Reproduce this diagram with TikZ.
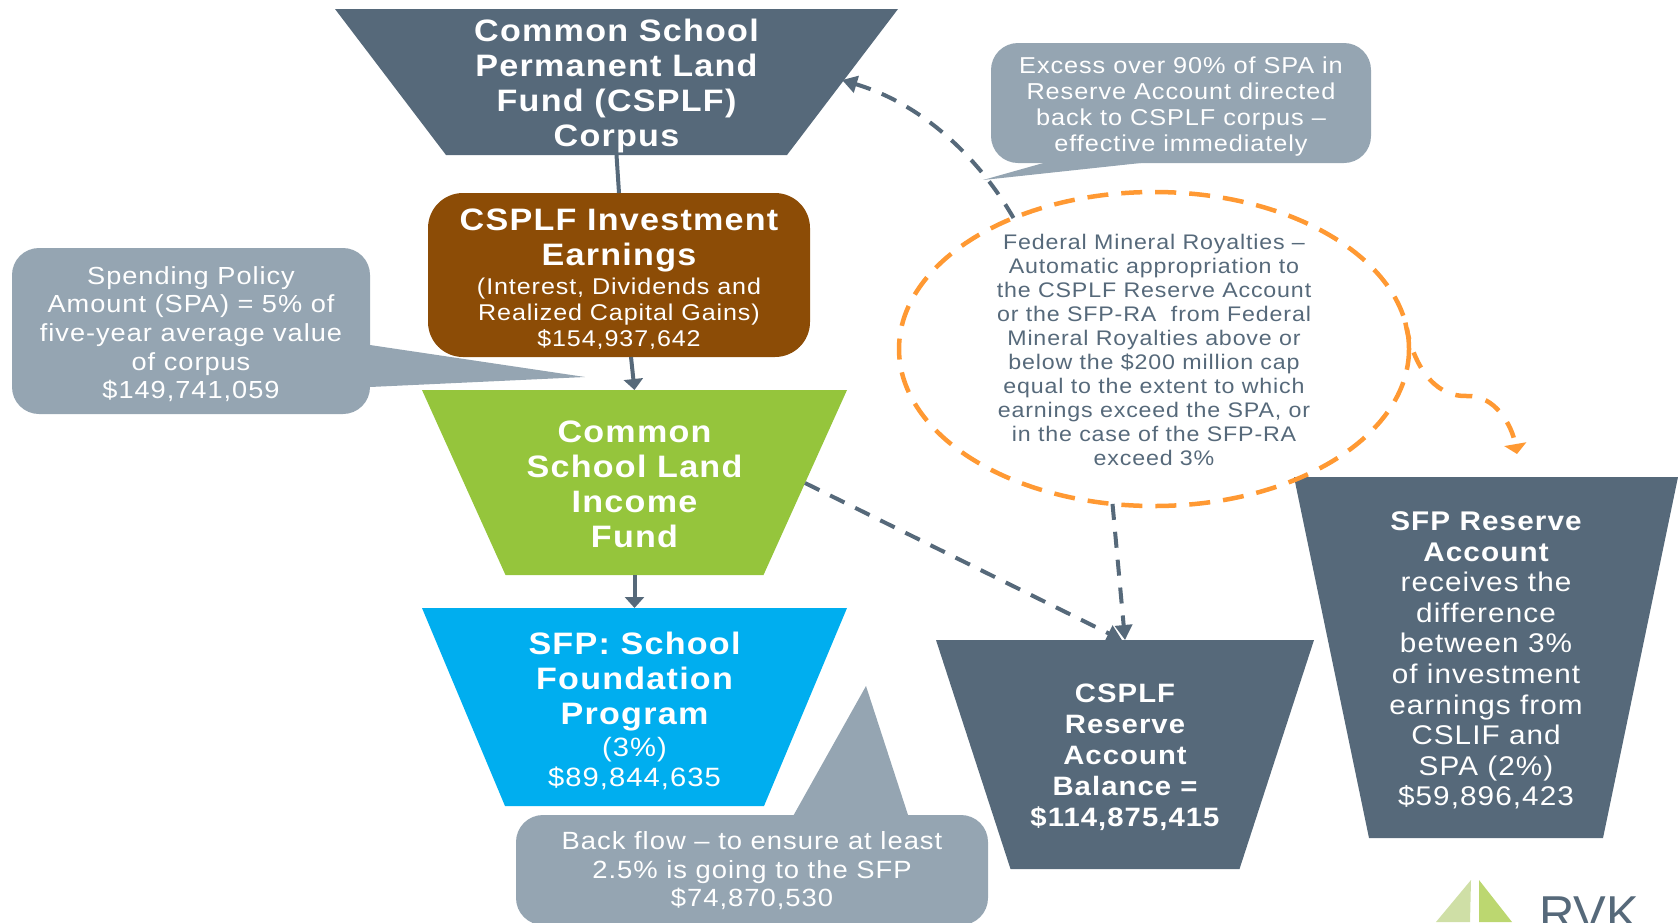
\documentclass[tikz,border=0pt]{standalone}
\usepackage{fontspec}
\setmainfont[FakeStretch=1.1,LetterSpace=4]{Liberation Sans}
\newfontfamily\logofont{Liberation Sans}
\usetikzlibrary{shapes.geometric,arrows.meta}
\definecolor{slate}{HTML}{56697A}
\definecolor{mist}{HTML}{95A5B2}
\definecolor{brownbox}{HTML}{8C4C06}
\definecolor{greenbox}{HTML}{95C53C}
\definecolor{bluebox}{HTML}{00AEEF}
\definecolor{orangeline}{HTML}{FF9933}
\definecolor{logoA}{HTML}{CFDFA6}
\definecolor{logoB}{HTML}{BCD770}
\newcommand{\headfont}{\bfseries\fontsize{31}{35}\selectfont}
\newcommand{\up}[1]{\rule{0pt}{#1pt}}
\tikzset{
  funneltext/.style={rectangle,inner sep=0pt,outer sep=0pt,draw=none,text=white,align=center},
  bubble/.style={rounded corners=27pt,inner sep=0pt,outer sep=0pt,text=white,align=center,fill=mist},
  tail/.style={fill=mist,draw=none},
  flow/.style={draw=slate,line width=4pt,-{Triangle[length=11pt,width=19pt]}},
  plainflow/.style={draw=slate,line width=4pt},
  dashflow/.style={draw=slate,line width=4pt,dash pattern=on 16pt off 12pt,-{Triangle[length=15pt,width=17pt]}},
  orangedash/.style={draw=orangeline,line width=4.5pt,dash pattern=on 21pt off 13pt},
}
% name, centre x, centre y, top width, height, inset, colour, font, text
\newcommand{\funnelbox}[9]{%
  \fill[#7] ({#2-#4/2},{#3-#5/2}) -- ({#2+#4/2},{#3-#5/2}) -- ({#2+#4/2-#6},{#3+#5/2}) -- ({#2-#4/2+#6},{#3+#5/2}) -- cycle;
  \node[funneltext,minimum width=#4 pt,minimum height=#5 pt,font=#8] (#1) at (#2,#3) {#9};
}
\begin{document}
\begin{tikzpicture}[x=1pt,y=-1pt]
\useasboundingbox (0,0) rectangle (1678,922);
% callout tails
\fill[tail] (370,345) -- (585,377) -- (370,387) -- cycle;
\fill[tail] (1054,160) -- (983,180) -- (1150,162) -- (1150,160) -- cycle;
\fill[tail] (792,818) -- (866,686) -- (909,818) -- cycle;
% callouts
\node[bubble,minimum width=358pt,minimum height=166pt,font=\fontsize{24.7}{28.6}\selectfont] (spa) at (191,331)
 {\up{24}Spending Policy\\Amount (SPA) = 5\% of\\five-year average value\\of corpus\\\$149,741,059};
\node[bubble,minimum width=380pt,minimum height=120pt,font=\fontsize{23}{26}\selectfont] (excess) at (1181,103)
 {\up{23}Excess over 90\% of SPA in\\Reserve Account directed\\back to CSPLF corpus --\\effective immediately};
\node[bubble,minimum width=472pt,minimum height=110pt,font=\fontsize{24.9}{28.5}\selectfont] (back) at (752,870)
 {\up{20}Back flow -- to ensure at least\\2.5\% is going to the SFP\\\$74,870,530};
% boxes
\funnelbox{corpus}{616.5}{82}{563}{146}{111}{slate}{\headfont}{\up{31}Common School\\Permanent Land\\Fund (CSPLF)\\Corpus}
\node[rounded corners=35pt,fill=brownbox,minimum width=382pt,minimum height=164pt,inner sep=0pt,outer sep=0pt,text=white,align=center,font=\fontsize{22.8}{26}\selectfont] (earn) at (619,275)
 {\up{29}\headfont CSPLF Investment\\[9pt]\headfont Earnings\\[3pt](Interest, Dividends and\\Realized Capital Gains)\\\$154,937,642};
\funnelbox{income}{634.5}{482.5}{425}{185}{83.5}{greenbox}{\headfont}{\up{26}Common\\School Land\\Income\\Fund}
\funnelbox{sfp}{634.5}{707}{425}{198}{83}{bluebox}{\fontsize{26.5}{30}\selectfont}{\up{30}\headfont SFP: School\\[5pt]\headfont Foundation\\[5pt]\headfont Program\\[2pt](3\%)\\\$89,844,635}
\funnelbox{reserve}{1125}{754.5}{378}{229}{74.5}{slate}{\bfseries\fontsize{26.6}{30.8}\selectfont}{\up{24}CSPLF\\Reserve\\Account\\Balance =\\\$114,875,415}
\funnelbox{sfpra}{1486}{657.5}{384}{361}{75}{slate}{\bfseries\fontsize{27}{30.6}\selectfont}{\up{25}SFP Reserve\\Account\\\mdseries receives the\\\mdseries difference\\\mdseries between 3\%\\\mdseries of investment\\\mdseries earnings from\\\mdseries CSLIF and\\\mdseries SPA (2\%)\\\mdseries \$59,896,423}
% ellipse
\node[ellipse,draw=orangeline,line width=4.5pt,dash pattern=on 21pt off 13pt,minimum width=510pt,minimum height=314pt,inner sep=0pt,outer sep=0pt] (fmr) at (1154,349) {};
\node[text=slate,align=center,font=\fontsize{21.1}{24}\selectfont,inner sep=0pt] (fmrT) at (1154,350)
 {Federal Mineral Royalties --\\Automatic appropriation to\\the CSPLF Reserve Account\\or the SFP-RA\ \ from Federal\\Mineral Royalties above or\\below the \$200 million cap\\equal to the extent to which\\earnings exceed the SPA, or\\in the case of the SFP-RA\\exceed 3\%};
% connectors
\coordinate (corpusTarget) at (842,80);
\coordinate (sfpraTarget) at (1517,454);
\coordinate (reserveTarget) at (1122,640);
\coordinate (incomeSide) at (805,483);
\coordinate (earnOut) at (631,357);
\draw[plainflow] (corpus.south) -- (earn.north);
\draw[flow] (earnOut) -- (income.north);
\draw[flow] (income.south) -- (sfp.north);
\draw[dashflow] (fmr.137) .. controls (980,160) and (925,105) .. (corpusTarget);
\draw[dashflow] (fmr.-105) -- (reserve.north);
\draw[dashflow] (incomeSide) -- (reserveTarget);
\draw[orangedash,dash pattern=on 17pt off 14pt,-{Triangle[length=10pt,width=22pt]}] (fmr.6) .. controls (1415,375) and (1440,397) .. (1467,396) .. controls (1495,395) and (1512,425) .. (sfpraTarget);
% logo
\fill[logoA] (1471,880) -- (1436,922) -- (1470,922) -- cycle;
\fill[logoB] (1479,880) -- (1512,922) -- (1479,922) -- cycle;
\node[text=slate,font=\logofont\fontsize{49}{49}\selectfont,inner sep=0pt,anchor=north west] (rvk) at (1539,897) {RVK};
\end{tikzpicture}
\end{document}
